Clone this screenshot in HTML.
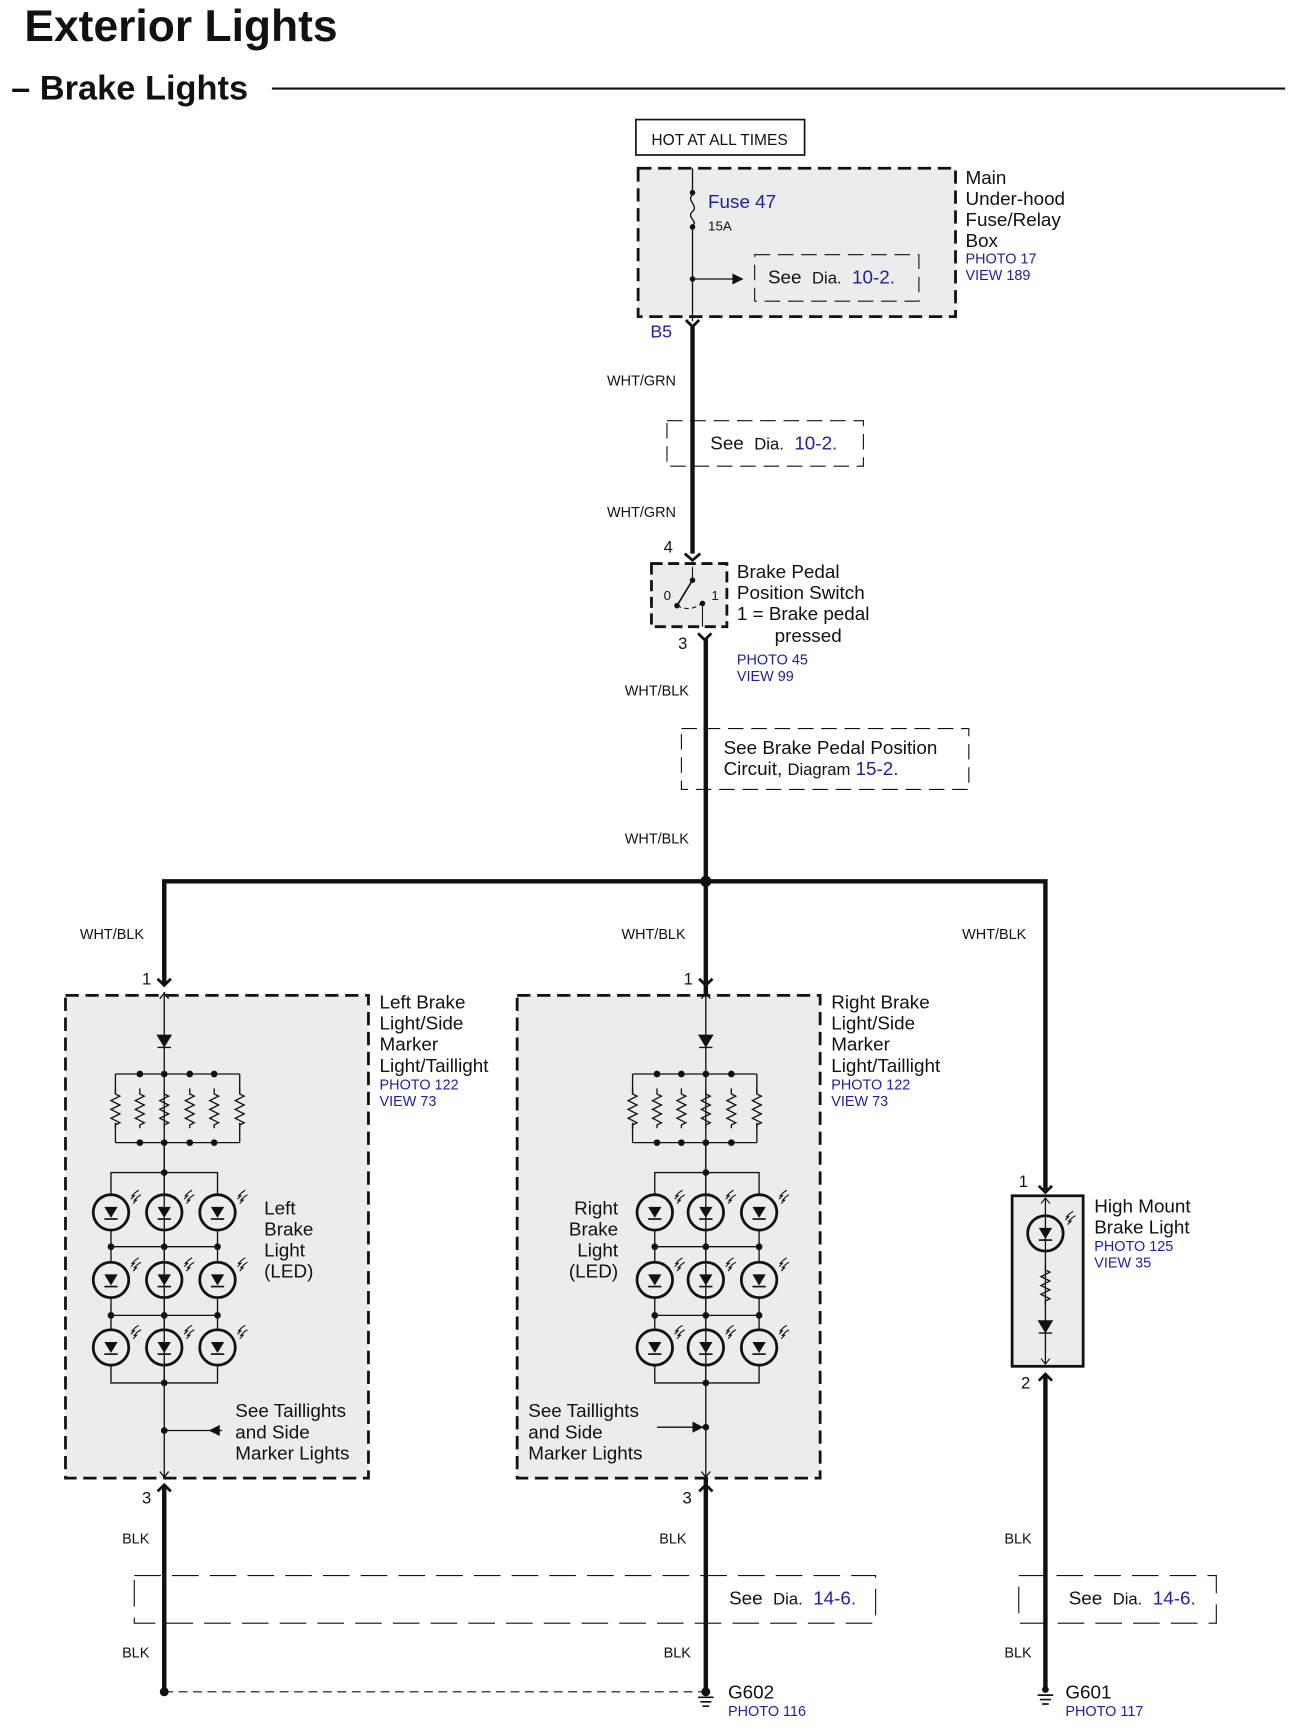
<!DOCTYPE html>
<html><head><meta charset="utf-8"><style>
html,body{margin:0;padding:0;background:#fff}
svg{display:block}
text{font-family:"Liberation Sans",Arial,sans-serif;fill:#111}
.b{fill:#1f1f9e}
</style></head><body>
<svg width="1294" height="1735" viewBox="0 0 1166 1567" preserveAspectRatio="none" xmlns="http://www.w3.org/2000/svg">
<defs>
<g id="led">
<circle r="16" fill="none" stroke="#111" stroke-width="2.5"/>
<path d="M-6,-5 L6,-5 L0,5 Z" fill="#111"/>
<path d="M-6,6 H6" stroke="#111" stroke-width="1.5"/>
<path d="M18,-12 l3,-3 l-2,0 l3,-3 l3,-2 M20,-8 l3,-3 l-2,0 l3,-3 l3,-2" fill="none" stroke="#111" stroke-width="1"/>
</g>
<path id="res" d="M0,-18 V-13 l4,2 -8,4 8,4 -8,4 8,4 -8,4 8,4 -4,2 V18" fill="none" stroke="#111" stroke-width="1.2"/>
<path id="dio" d="M-6,-5 L6,-5 L0,5 Z M-6,6 H6" fill="#111" stroke="#111" stroke-width="1.2"/>
</defs>

<text x="22" y="37" font-size="40" font-weight="bold">Exterior Lights</text>
<text x="10" y="90" font-size="31" font-weight="bold">– Brake Lights</text>
<line x1="245" y1="80" x2="1158" y2="80" stroke="#111" stroke-width="2"/>

<rect x="573" y="108" width="152" height="32" fill="#fff" stroke="#111" stroke-width="1.5"/>
<text x="587" y="131" font-size="14">HOT AT ALL TIMES</text>

<rect x="575" y="152" width="286" height="134" fill="#ececec" stroke="#111" stroke-width="2.5" stroke-dasharray="12,6"/>
<line x1="624" y1="152" x2="624" y2="172" stroke="#111" stroke-width="1.2"/>
<circle cx="624" cy="174" r="2.5" fill="#111"/>
<path d="M624,176 c-6,5 6,10 0,15 c-6,5 6,10 0,12" fill="none" stroke="#111" stroke-width="1.2"/>
<circle cx="624" cy="205" r="2.5" fill="#111"/>
<line x1="624" y1="205" x2="624" y2="290" stroke="#111" stroke-width="1.2"/>
<circle cx="624" cy="252" r="2.5" fill="#111"/>
<line x1="624" y1="252" x2="662" y2="252" stroke="#111" stroke-width="1.2"/>
<path d="M670,252 L660,247 L660,257 Z" fill="#111"/>
<rect x="680" y="230" width="148" height="42" fill="none" stroke="#111" stroke-width="1" stroke-dasharray="14,7"/>
<text x="692" y="256" font-size="17" xml:space="preserve">See  <tspan font-size="15">Dia.</tspan>  <tspan class="b">10-2.</tspan></text>
<text x="638" y="188" font-size="17" class="b">Fuse 47</text>
<text x="638" y="208" font-size="12">15A</text>
<text x="870" y="166" font-size="17">Main</text>
<text x="870" y="185" font-size="17">Under-hood</text>
<text x="870" y="204" font-size="17">Fuse/Relay</text>
<text x="870" y="223" font-size="17">Box</text>
<text x="870" y="238" font-size="13" class="b">PHOTO 17</text>
<text x="870" y="253" font-size="13" class="b">VIEW 189</text>
<text x="586" y="305" font-size="16" class="b">B5</text>

<path d="M618,289 L624,295 L630,289" fill="none" stroke="#111" stroke-width="2.5"/>
<line x1="624" y1="295" x2="624" y2="500" stroke="#111" stroke-width="4"/>
<text x="547" y="348" font-size="13">WHT/GRN</text>
<rect x="601" y="380" width="177" height="41" fill="none" stroke="#111" stroke-width="1" stroke-dasharray="14,7"/>
<text x="640" y="406" font-size="17" xml:space="preserve">See  <tspan font-size="15">Dia.</tspan>  <tspan class="b">10-2.</tspan></text>
<text x="547" y="467" font-size="13">WHT/GRN</text>
<text x="598" y="499" font-size="15">4</text>
<path d="M617,500 L624,506 L631,500" fill="none" stroke="#111" stroke-width="2.5"/>

<rect x="587" y="509" width="68" height="57" fill="#ececec" stroke="#111" stroke-width="2.5" stroke-dasharray="10,5"/>
<line x1="624" y1="512" x2="624" y2="524" stroke="#111" stroke-width="1"/>
<circle cx="624" cy="524" r="2.5" fill="#111"/>
<line x1="624" y1="524" x2="610" y2="547" stroke="#111" stroke-width="1.5"/>
<circle cx="610" cy="547" r="2.5" fill="#111"/>
<path d="M610,547 Q622,553 632,545" fill="none" stroke="#111" stroke-width="1" stroke-dasharray="4,3"/>
<circle cx="633" cy="545" r="2.5" fill="#111"/>
<line x1="633" y1="545" x2="633" y2="566" stroke="#111" stroke-width="1"/>
<text x="598" y="542" font-size="12">0</text>
<text x="641" y="542" font-size="12">1</text>
<text x="664" y="522" font-size="17">Brake Pedal</text>
<text x="664" y="541" font-size="17">Position Switch</text>
<text x="664" y="560" font-size="17">1 = Brake pedal</text>
<text x="698" y="580" font-size="17">pressed</text>
<text x="664" y="600" font-size="13" class="b">PHOTO 45</text>
<text x="664" y="615" font-size="13" class="b">VIEW 99</text>
<text x="611" y="586" font-size="15">3</text>
<path d="M629,572 L635,578 L641,572" fill="none" stroke="#111" stroke-width="2.5"/>
<line x1="636" y1="577" x2="636" y2="1340" stroke="#111" stroke-width="4"/>
<text x="563" y="628" font-size="13">WHT/BLK</text>
<rect x="614" y="658" width="259" height="55" fill="none" stroke="#111" stroke-width="1" stroke-dasharray="14,7"/>
<rect x="630" y="660" width="12" height="52" fill="#fff"/>
<line x1="636" y1="656" x2="636" y2="716" stroke="#111" stroke-width="4"/>
<text x="652" y="681" font-size="17">See Brake Pedal Position</text>
<text x="652" y="700" font-size="17">Circuit, <tspan font-size="15">Diagram</tspan> <tspan class="b">15-2.</tspan></text>
<text x="563" y="762" font-size="13">WHT/BLK</text>

<path d="M148,890 V796 H942 V1075" fill="none" stroke="#111" stroke-width="4"/>
<circle cx="636" cy="796" r="5" fill="#111"/>
<text x="72" y="848" font-size="13">WHT/BLK</text>
<text x="560" y="848" font-size="13">WHT/BLK</text>
<text x="867" y="848" font-size="13">WHT/BLK</text>
<text x="128" y="889" font-size="15">1</text>
<text x="616" y="889" font-size="15">1</text>
<path d="M142,884 L148,890 L154,884" fill="none" stroke="#111" stroke-width="2.5"/>
<path d="M630,884 L636,890 L642,884" fill="none" stroke="#111" stroke-width="2.5"/>

<rect x="59" y="899" width="273" height="436" fill="#ececec" stroke="#111" stroke-width="2.5" stroke-dasharray="12,6"/>
<g stroke="#111" stroke-width="1.2" fill="none">
<line x1="148" y1="896" x2="148" y2="1334"/>
<path d="M144,902 L148,897 L152,902 M144,1329 L148,1334 L152,1329"/>
<path d="M104,970 H216 M104,1032 H216 M104,970 V988 M104,1014 V1032 M216,970 V988 M216,1014 V1032"/>
<path d="M100,1079 V1059 H196 V1079 M100,1111 V1126 H196 V1111 M100,1126 V1140 M196,1126 V1140 M100,1172 V1188 H196 V1172 M100,1188 V1201 M196,1188 V1201 M100,1233 V1249 H196 V1233 M148,1233 V1249 M148,1111 V1140 M148,1172 V1201 M148,1032 V1079"/>
</g>
<use href="#dio" x="148" y="940"/>
<use href="#res" x="104" y="1001"/><use href="#res" x="126" y="1001"/><use href="#res" x="148" y="1001"/><use href="#res" x="171" y="1001"/><use href="#res" x="193" y="1001"/><use href="#res" x="216" y="1001"/>
<g fill="#111">
<circle cx="126" cy="970" r="3"/><circle cx="148" cy="970" r="3"/><circle cx="171" cy="970" r="3"/><circle cx="193" cy="970" r="3"/>
<circle cx="126" cy="1032" r="3"/><circle cx="148" cy="1032" r="3"/><circle cx="171" cy="1032" r="3"/><circle cx="193" cy="1032" r="3"/>
<circle cx="148" cy="1059" r="3"/>
<circle cx="100" cy="1126" r="3"/><circle cx="148" cy="1126" r="3"/><circle cx="196" cy="1126" r="3"/>
<circle cx="100" cy="1188" r="3"/><circle cx="148" cy="1188" r="3"/><circle cx="196" cy="1188" r="3"/>
<circle cx="148" cy="1249" r="3"/><circle cx="148" cy="1292" r="3"/>
</g>
<use href="#led" x="100" y="1095"/><use href="#led" x="148" y="1095"/><use href="#led" x="196" y="1095"/>
<use href="#led" x="100" y="1156"/><use href="#led" x="148" y="1156"/><use href="#led" x="196" y="1156"/>
<use href="#led" x="100" y="1217"/><use href="#led" x="148" y="1217"/><use href="#led" x="196" y="1217"/>
<line x1="148" y1="1292" x2="200" y2="1292" stroke="#111" stroke-width="1.2"/>
<path d="M188,1292 L198,1287 L198,1297 Z" fill="#111"/>
<text x="238" y="1097" font-size="17">Left</text>
<text x="238" y="1116" font-size="17">Brake</text>
<text x="238" y="1135" font-size="17">Light</text>
<text x="238" y="1154" font-size="17">(LED)</text>
<text x="212" y="1280" font-size="17">See Taillights</text>
<text x="212" y="1299" font-size="17">and Side</text>
<text x="212" y="1318" font-size="17">Marker Lights</text>
<text x="342" y="911" font-size="17">Left Brake</text>
<text x="342" y="930" font-size="17">Light/Side</text>
<text x="342" y="949" font-size="17">Marker</text>
<text x="342" y="968" font-size="17">Light/Taillight</text>
<text x="342" y="984" font-size="13" class="b">PHOTO 122</text>
<text x="342" y="999" font-size="13" class="b">VIEW 73</text>

<rect x="466" y="899" width="273" height="436" fill="#ececec" stroke="#111" stroke-width="2.5" stroke-dasharray="12,6"/>
<g transform="translate(488,0)">
<g stroke="#111" stroke-width="1.2" fill="none">
<line x1="148" y1="896" x2="148" y2="1334"/>
<path d="M144,902 L148,897 L152,902 M144,1329 L148,1334 L152,1329"/>
<path d="M82,970 H194 M82,1032 H194 M82,970 V988 M82,1014 V1032 M194,970 V988 M194,1014 V1032"/>
<path d="M102,1079 V1059 H196 V1079 M102,1111 V1126 H196 V1111 M102,1126 V1140 M196,1126 V1140 M102,1172 V1188 H196 V1172 M102,1188 V1201 M196,1188 V1201 M102,1233 V1249 H196 V1233 M148,1233 V1249 M148,1111 V1140 M148,1172 V1201 M148,1032 V1079"/>
</g>
<use href="#dio" x="148" y="940"/>
<use href="#res" x="82" y="1001"/><use href="#res" x="104" y="1001"/><use href="#res" x="126" y="1001"/><use href="#res" x="148" y="1001"/><use href="#res" x="171" y="1001"/><use href="#res" x="194" y="1001"/>
<g fill="#111">
<circle cx="104" cy="970" r="3"/><circle cx="126" cy="970" r="3"/><circle cx="148" cy="970" r="3"/><circle cx="171" cy="970" r="3"/>
<circle cx="104" cy="1032" r="3"/><circle cx="126" cy="1032" r="3"/><circle cx="148" cy="1032" r="3"/><circle cx="171" cy="1032" r="3"/>
<circle cx="148" cy="1059" r="3"/>
<circle cx="102" cy="1126" r="3"/><circle cx="148" cy="1126" r="3"/><circle cx="196" cy="1126" r="3"/>
<circle cx="102" cy="1188" r="3"/><circle cx="148" cy="1188" r="3"/><circle cx="196" cy="1188" r="3"/>
<circle cx="148" cy="1249" r="3"/><circle cx="148" cy="1289" r="3"/>
</g>
<use href="#led" x="102" y="1095"/><use href="#led" x="148" y="1095"/><use href="#led" x="196" y="1095"/>
<use href="#led" x="102" y="1156"/><use href="#led" x="148" y="1156"/><use href="#led" x="196" y="1156"/>
<use href="#led" x="102" y="1217"/><use href="#led" x="148" y="1217"/><use href="#led" x="196" y="1217"/>
<line x1="104" y1="1289" x2="148" y2="1289" stroke="#111" stroke-width="1.2"/>
<path d="M146,1289 L136,1284 L136,1294 Z" fill="#111"/>
</g>
<text x="557" y="1097" font-size="17" text-anchor="end">Right</text>
<text x="557" y="1116" font-size="17" text-anchor="end">Brake</text>
<text x="557" y="1135" font-size="17" text-anchor="end">Light</text>
<text x="557" y="1154" font-size="17" text-anchor="end">(LED)</text>
<text x="476" y="1280" font-size="17">See Taillights</text>
<text x="476" y="1299" font-size="17">and Side</text>
<text x="476" y="1318" font-size="17">Marker Lights</text>
<text x="749" y="911" font-size="17">Right Brake</text>
<text x="749" y="930" font-size="17">Light/Side</text>
<text x="749" y="949" font-size="17">Marker</text>
<text x="749" y="968" font-size="17">Light/Taillight</text>
<text x="749" y="984" font-size="13" class="b">PHOTO 122</text>
<text x="749" y="999" font-size="13" class="b">VIEW  73</text>

<text x="918" y="1072" font-size="15">1</text>
<path d="M936,1071 L942,1077 L948,1071" fill="none" stroke="#111" stroke-width="2.5"/>
<rect x="912" y="1080" width="64" height="154" fill="#ececec" stroke="#111" stroke-width="2.5"/>
<line x1="942" y1="1082" x2="942" y2="1232" stroke="#111" stroke-width="1.2"/>
<path d="M938,1087 L942,1082 L946,1087 M938,1227 L942,1232 L946,1227" fill="none" stroke="#111" stroke-width="1"/>
<use href="#led" x="942" y="1114"/>
<use href="#res" x="942" y="1160"/>
<use href="#dio" x="942" y="1198"/>
<path d="M936,1247 L942,1241 L948,1247" fill="none" stroke="#111" stroke-width="2.5"/>
<text x="920" y="1254" font-size="15">2</text>
<text x="986" y="1095" font-size="17">High Mount</text>
<text x="986" y="1114" font-size="17">Brake Light</text>
<text x="986" y="1130" font-size="13" class="b">PHOTO 125</text>
<text x="986" y="1145" font-size="13" class="b">VIEW 35</text>

<text x="128" y="1358" font-size="15">3</text>
<text x="615" y="1358" font-size="15">3</text>
<path d="M142,1347 L148,1341 L154,1347" fill="none" stroke="#111" stroke-width="2.5"/>
<path d="M630,1347 L636,1341 L642,1347" fill="none" stroke="#111" stroke-width="2.5"/>
<rect x="121" y="1423" width="668" height="43" fill="none" stroke="#111" stroke-width="1" stroke-dasharray="24,10"/>
<rect x="918" y="1423" width="178" height="43" fill="none" stroke="#111" stroke-width="1" stroke-dasharray="24,10"/>
<line x1="148" y1="1342" x2="148" y2="1528" stroke="#111" stroke-width="4"/>
<line x1="636" y1="1340" x2="636" y2="1526" stroke="#111" stroke-width="4"/>
<line x1="942" y1="1241" x2="942" y2="1526" stroke="#111" stroke-width="4"/>
<text x="657" y="1449" font-size="17" xml:space="preserve">See  <tspan font-size="15">Dia.</tspan>  <tspan class="b">14-6.</tspan></text>
<text x="963" y="1449" font-size="17" xml:space="preserve">See  <tspan font-size="15">Dia.</tspan>  <tspan class="b">14-6.</tspan></text>
<text x="110" y="1394" font-size="13">BLK</text>
<text x="594" y="1394" font-size="13">BLK</text>
<text x="905" y="1394" font-size="13">BLK</text>
<text x="110" y="1497" font-size="13">BLK</text>
<text x="598" y="1497" font-size="13">BLK</text>
<text x="905" y="1497" font-size="13">BLK</text>
<circle cx="148" cy="1528" r="4" fill="#111"/>
<line x1="148" y1="1528" x2="636" y2="1528" stroke="#111" stroke-width="1" stroke-dasharray="8,5"/>
<circle cx="636" cy="1528" r="4" fill="#111"/>
<path d="M629,1533 H643 M631,1537 H641 M633,1541 H639" stroke="#111" stroke-width="1.5"/>
<circle cx="942" cy="1526" r="3" fill="#111"/>
<path d="M935,1531 H949 M937,1535 H947 M939,1539 H945" stroke="#111" stroke-width="1.5"/>
<text x="656" y="1534" font-size="17">G602</text>
<text x="656" y="1550" font-size="13" class="b">PHOTO 116</text>
<text x="960" y="1534" font-size="17">G601</text>
<text x="960" y="1550" font-size="13" class="b">PHOTO 117</text>
</svg>
</body></html>
